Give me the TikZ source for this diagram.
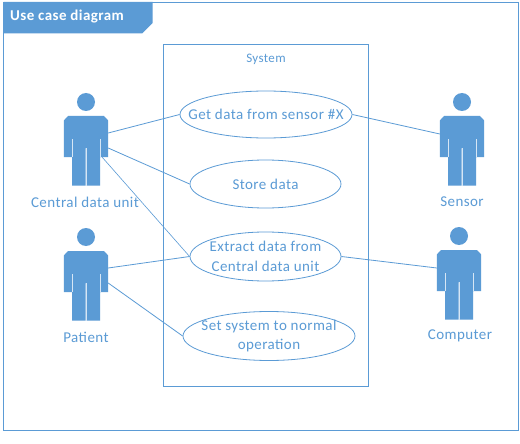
\documentclass[tikz,border=0pt]{standalone}
\usepackage{fontspec}
\setmainfont{Carlito}[LetterSpace=2.9]
\usetikzlibrary{shapes.geometric}
\definecolor{umlblue}{HTML}{5B9BD5}
\definecolor{umltext}{HTML}{5B9BD5}
\tikzset{
  x=1pt,y=-1pt,
  usecase/.style={draw=umlblue,line width=0.8pt,ellipse,fill=white,inner xsep=-40pt,inner ysep=-15pt,minimum width=#1,font=\fontsize{15}{19.5}\selectfont,text=umltext,align=center},
  link/.style={draw=umlblue,line width=0.8pt},
  label/.style={font=\fontsize{15}{17}\selectfont,text=umltext,inner sep=0pt},
  actorpic/.pic={
    \fill[umlblue] (0,-23) circle (9);
    \fill[umlblue] (-18,-9) -- (18,-9) -- (22.2,-4.5) -- (22.2,32) -- (14,32) -- (14,60.5) -- (0.5,60.5) -- (0.5,23) -- (-0.5,23) -- (-0.5,60.5) -- (-14,60.5) -- (-14,32) -- (-22.2,32) -- (-22.2,-4.5) -- cycle;
    \draw[white!75!umlblue,line width=0.7pt] (-14,14) -- (-14,32) (14,14) -- (14,32) (0,23) -- (0,60.5);
    \coordinate (-r1) at (22.2,8);
    \coordinate (-r2) at (22.2,23);
    \coordinate (-r3) at (16,32);
    \coordinate (-l1) at (-22.2,9);
  }
}
\begin{document}
\begin{tikzpicture}
\useasboundingbox (0,0) rectangle (520,444);
\fill[white] (0,0) rectangle (520,444);
\draw[umlblue,line width=0.8pt] (3.5,2) rectangle (518,430);
\fill[umlblue] (3.5,2) -- (152.5,2) -- (152.5,23) -- (142,33.5) -- (3.5,33.5) -- cycle;
\node[anchor=west,font=\fontsize{15}{17}\selectfont\bfseries,text=white,inner sep=0pt] (title) at (10,17) {Use case diagram};
\draw[umlblue,line width=0.8pt] (163.5,44.5) rectangle (368.5,386.5);
\node[font=\fontsize{13}{15}\selectfont,text=umltext,inner sep=0pt] (system) at (266,59.5) {System};

\pic (cdu) at (86,125) {actorpic};
\pic (pat) at (86,260) {actorpic};
\pic (sen) at (462,125) {actorpic};
\pic (com) at (459,259) {actorpic};

\node[label] (cdulabel) at (85,202) {Central data unit};
\node[label] (patlabel) at (86,337) {Patient};
\node[label] (senlabel) at (462,202) {Sensor};
\node[label] (comlabel) at (460,336) {Computer};

\node[usecase=172pt,minimum height=47pt] (get) at (266,114.5) {Get data from sensor \#X};
\node[usecase=151pt,minimum height=48pt] (store) at (265.5,184) {Store data};
\node[usecase=151pt,minimum height=49pt] (extract) at (265.5,256.5) {Extract data from\\Central data unit};
\node[usecase=172pt,minimum height=49pt] (set) at (269,336) {Set system to normal\\operation};

\draw[link] (cdu-r1) -- (get.west);
\draw[link] (cdu-r2) -- (store.west);
\draw[link,line width=0.6pt] (cdu-r3) -- (extract.west);
\draw[link] (pat-r1) -- (extract.west);
\draw[link] (pat-r2) -- (set.west);
\draw[link] (sen-l1) -- (get.east);
\draw[link] (com-l1) -- (extract.east);
\end{tikzpicture}
\end{document}
